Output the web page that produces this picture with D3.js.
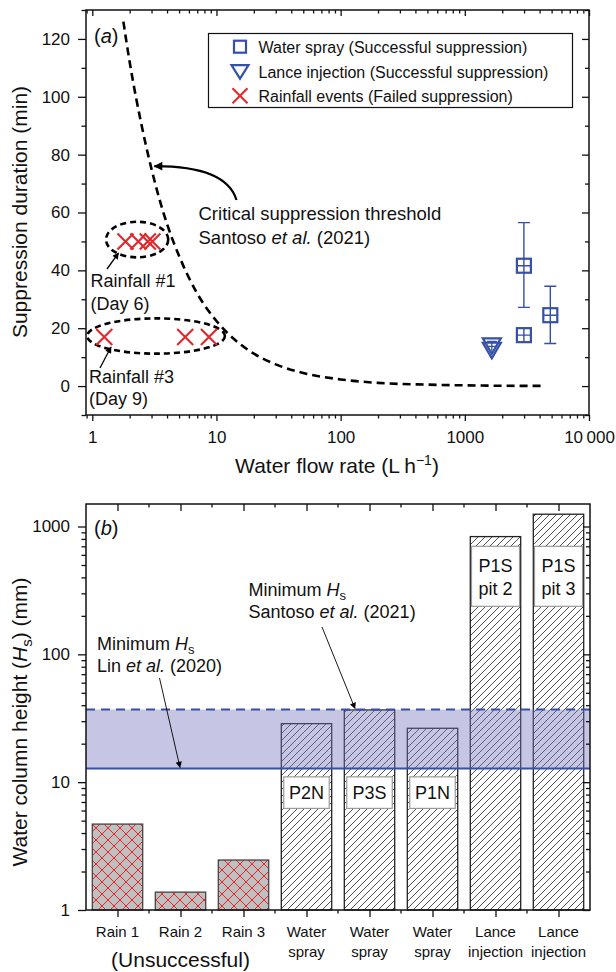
<!DOCTYPE html>
<html><head><meta charset="utf-8">
<script src="https://cdn.jsdelivr.net/npm/d3@7"></script>
<style>body{margin:0;background:#fff} svg{display:block} text{font-family:"Liberation Sans",Arial,Helvetica,sans-serif;fill:#111}</style>
</head><body><svg id="c" width="616" height="972"></svg>
<script>
// ---------- Panel (a) data ----------
const thresholdFlow = [1.78, 2, 2.5, 3, 4, 5, 7, 10, 15, 20, 30, 50, 100, 200, 500, 1000, 2000, 4200];
const thresholdDuration = [126, 112, 90, 75, 56, 45, 32, 22.5, 15, 11.2, 7.5, 4.5, 2.3, 1.1, 0.5, 0.25, 0.1, 0.05];
const rainFlow = [1.85, 2.35, 2.8, 3.05, 1.25, 5.6, 8.7];
const rainDuration = [50, 50, 50, 50, 17, 17, 17];
const sprayFlow = [2990, 2990, 4880];
const sprayDuration = [41.6, 17.6, 24.5];
const sprayErrLow = [27.2, 17.6, 14.7];
const sprayErrHigh = [56.5, 17.6, 34.5];
const lanceFlow = [1650, 1650];
const lanceDuration = [14.4, 12.9];
const lanceErrLow = [13.4, 12.1];
const lanceErrHigh = [15.4, 13.7];
const xTicksA = [1, 10, 100, 1000, 10000];
const yTicksA = [0, 20, 40, 60, 80, 100, 120];
const legendLabels = ["Water spray (Successful suppression)", "Lance injection (Successful suppression)", "Rainfall events (Failed suppression)"];

// ---------- Panel (b) data ----------
const barIds = ["r1", "r2", "r3", "w1", "w2", "w3", "l1", "l2"];
const barLabels = [["Rain 1"], ["Rain 2"], ["Rain 3"], ["Water", "spray"], ["Water", "spray"], ["Water", "spray"], ["Lance", "injection"], ["Lance", "injection"]];
const barHeights = [4.7, 1.38, 2.46, 28.7, 36.7, 26.4, 834, 1248];
const barKinds = ["rain", "rain", "rain", "hatch", "hatch", "hatch", "hatch", "hatch"];
const pitLabels = [null, null, null, ["P2N"], ["P3S"], ["P1N"], ["P1S", "pit 2"], ["P1S", "pit 3"]];
const yTicksB = [1, 10, 100, 1000];
const minHsLin = 12.8;
const minHsSantoso = 37;

const BLUE = "#3550a5", RED = "#e5262b";
const svg = d3.select("#c");
const defs = svg.append("defs");

// markers
defs.append("marker").attr("id", "ahBig").attr("viewBox", "0 0 10 10").attr("refX", 9).attr("refY", 5)
  .attr("markerWidth", 4.5).attr("markerHeight", 4).attr("orient", "auto").attr("markerUnits", "strokeWidth")
  .append("path").attr("d", "M0,0 L10,5 L0,10 z").attr("fill", "#000");
defs.append("marker").attr("id", "ahMid").attr("viewBox", "0 0 10 10").attr("refX", 9).attr("refY", 5)
  .attr("markerWidth", 6).attr("markerHeight", 5).attr("orient", "auto").attr("markerUnits", "strokeWidth")
  .append("path").attr("d", "M0,0 L10,5 L0,10 z").attr("fill", "#000");
defs.append("marker").attr("id", "ahThin").attr("viewBox", "0 0 10 10").attr("refX", 9).attr("refY", 5)
  .attr("markerWidth", 9).attr("markerHeight", 7).attr("orient", "auto").attr("markerUnits", "strokeWidth")
  .append("path").attr("d", "M0,0 L10,5 L0,10 z").attr("fill", "#000");

// patterns
const pr = defs.append("pattern").attr("id", "cross").attr("patternUnits", "userSpaceOnUse").attr("width", 12).attr("height", 12);
pr.append("rect").attr("width", 12).attr("height", 12).attr("fill", "#c0c0c0");
pr.append("path").attr("d", "M0,0 L12,12 M12,0 L0,12 M-1,11 L1,13 M11,-1 L13,1 M-1,1 L1,-1 M11,13 L13,11").attr("stroke", RED).attr("stroke-width", 1);
const ph = defs.append("pattern").attr("id", "hatch").attr("patternUnits", "userSpaceOnUse").attr("width", 7).attr("height", 7);
ph.append("rect").attr("width", 7).attr("height", 7).attr("fill", "#fff");
ph.append("path").attr("d", "M0,7 L7,0 M-1,1 L1,-1 M6,8 L8,6").attr("stroke", "#222").attr("stroke-width", 0.8);

// ================= PANEL A =================
const L = 86, R = 589, TA = 10, BA = 415;
const x = d3.scaleLog().domain([0.89, 10000]).range([L, R]);
const y = d3.scaleLinear().domain([-10, 130]).range([BA, TA]);

defs.append("clipPath").attr("id", "clipA").append("rect").attr("x", L).attr("y", TA).attr("width", R - L).attr("height", BA - TA);

const minorX = [];
for (let e = -1; e < 4; e++) for (let m = 2; m <= 9; m++) { const v = m * Math.pow(10, e); if (v >= 0.89 && v <= 10000) minorX.push(v); }
const minorYA = d3.range(-10, 131, 10).filter(v => v % 20 !== 0);

const gA = svg.append("g");
function styleAxis(g) { g.select(".domain").remove(); g.selectAll("line").attr("stroke", "#111").attr("stroke-width", 1.3); g.selectAll("text").attr("fill", "#111"); }

// bottom x axis
gA.append("g").attr("transform", `translate(0,${BA})`).call(d3.axisBottom(x).tickValues(xTicksA).tickSize(6).tickPadding(10)
  .tickFormat(d => d === 10000 ? "10\u2009000" : d)).call(styleAxis).selectAll("text").attr("font-size", 17);
gA.append("g").attr("transform", `translate(0,${BA})`).call(d3.axisBottom(x).tickValues(minorX).tickSize(3.5).tickFormat("")).call(styleAxis);
// top
gA.append("g").attr("transform", `translate(0,${TA})`).call(d3.axisTop(x).tickValues(xTicksA).tickSize(-6).tickFormat("")).call(styleAxis);
gA.append("g").attr("transform", `translate(0,${TA})`).call(d3.axisTop(x).tickValues(minorX).tickSize(-3.5).tickFormat("")).call(styleAxis);
// left
gA.append("g").attr("transform", `translate(${L},0)`).call(d3.axisLeft(y).tickValues(yTicksA).tickSize(8).tickPadding(8)).call(styleAxis).selectAll("text").attr("font-size", 17);
gA.append("g").attr("transform", `translate(${L},0)`).call(d3.axisLeft(y).tickValues(minorYA).tickSize(4.5).tickFormat("")).call(styleAxis);
// right
gA.append("g").attr("transform", `translate(${R},0)`).call(d3.axisRight(y).tickValues(yTicksA).tickSize(-7).tickFormat("")).call(styleAxis);
gA.append("g").attr("transform", `translate(${R},0)`).call(d3.axisRight(y).tickValues(minorYA).tickSize(-4).tickFormat("")).call(styleAxis);

gA.append("rect").attr("x", L).attr("y", TA).attr("width", R - L).attr("height", BA - TA).attr("fill", "none").attr("stroke", "#111").attr("stroke-width", 1.5);

// threshold curve
const plotA = gA.append("g").attr("clip-path", "url(#clipA)");
const curvePts = thresholdFlow.map((f, i) => [f, thresholdDuration[i]]);
plotA.append("path").datum(curvePts)
  .attr("d", d3.line().x(d => x(d[0])).y(d => y(d[1])).curve(d3.curveMonotoneX))
  .attr("fill", "none").attr("stroke", "#000").attr("stroke-width", 2.6).attr("stroke-dasharray", "8,5");

// ellipses (data-space extents)
const ellipses = [{x0: 1.29, x1: 4.09, y0: 44.5, y1: 56.8}, {x0: 0.91, x1: 11.7, y0: 11.2, y1: 23.4}];
plotA.selectAll("ellipse.e").data(ellipses).join("ellipse")
  .attr("cx", d => (x(d.x0) + x(d.x1)) / 2).attr("cy", d => (y(d.y0) + y(d.y1)) / 2)
  .attr("rx", d => (x(d.x1) - x(d.x0)) / 2).attr("ry", d => (y(d.y0) - y(d.y1)) / 2)
  .attr("fill", "none").attr("stroke", "#000").attr("stroke-width", 2.6).attr("stroke-dasharray", "6,4");

// rain crosses
const crossPath = s => `M${-s},${-s}L${s},${s}M${-s},${s}L${s},${-s}`;
plotA.selectAll("path.rx").data(rainFlow.map((f, i) => [f, rainDuration[i]])).join("path")
  .attr("transform", d => `translate(${x(d[0])},${y(d[1])})`).attr("d", crossPath(8))
  .attr("stroke", RED).attr("stroke-width", 2.1).attr("fill", "none");

// spray squares with error bars
const spray = sprayFlow.map((f, i) => ({f, v: sprayDuration[i], lo: sprayErrLow[i], hi: sprayErrHigh[i]}));
const sq = 7;
spray.forEach(d => {
  const cx = x(d.f), cy = y(d.v);
  if (d.hi > d.v) {
    plotA.append("path").attr("d", `M${cx},${y(d.hi)}V${cy - sq}M${cx - 6},${y(d.hi)}H${cx + 6}M${cx},${cy + sq}V${y(d.lo)}M${cx - 6},${y(d.lo)}H${cx + 6}`)
      .attr("stroke", BLUE).attr("stroke-width", 1.4).attr("fill", "none");
  }
  plotA.append("rect").attr("x", cx - sq).attr("y", cy - sq).attr("width", 2 * sq).attr("height", 2 * sq)
    .attr("fill", "#fff").attr("stroke", BLUE).attr("stroke-width", 2.2);
  plotA.append("path").attr("d", `M${cx - sq},${cy}H${cx + sq}M${cx},${cy - sq}V${cy + sq}`).attr("stroke", BLUE).attr("stroke-width", 1.4);
});
// lance triangles
const triPath = "M-9,-6L9,-6L0,9.5Z";
lanceFlow.forEach((f, i) => {
  const cx = x(f), cy = y(lanceDuration[i]);
  plotA.append("path").attr("d", `M${cx},${y(lanceErrHigh[i])}V${y(lanceErrLow[i])}M${cx - 5},${y(lanceErrHigh[i])}H${cx + 5}`)
    .attr("stroke", BLUE).attr("stroke-width", 1.3);
  plotA.append("path").attr("transform", `translate(${cx},${cy})`).attr("d", triPath)
    .attr("fill", "none").attr("stroke", BLUE).attr("stroke-width", 2.2);
});

// legend
const lg = gA.append("g");
lg.append("rect").attr("x", 208.5).attr("y", 33.5).attr("width", 364).attr("height", 74).attr("fill", "#fff").attr("stroke", "#111").attr("stroke-width", 1.2);
const legY = [46.7, 71.7, 95.7];
lg.append("rect").attr("x", 234).attr("y", legY[0] - 6).attr("width", 12).attr("height", 12).attr("fill", "none").attr("stroke", BLUE).attr("stroke-width", 2.2);
lg.append("path").attr("transform", `translate(240,${legY[1] - 0.5})`).attr("d", "M-8.5,-6L8.5,-6L0,7.5Z").attr("fill", "none").attr("stroke", BLUE).attr("stroke-width", 2.2);
lg.append("path").attr("transform", `translate(240,${legY[2]})`).attr("d", crossPath(7.5)).attr("stroke", RED).attr("stroke-width", 2.1);
lg.selectAll("text").data(legendLabels).join("text").attr("x", 258.5).attr("y", (d, i) => legY[i] + 5.8)
  .attr("font-size", 16).text(d => d);

// panel label
const ta = gA.append("text").attr("x", 94).attr("y", 43).attr("font-size", 20);
ta.append("tspan").text("("); ta.append("tspan").attr("font-style", "italic").text("a"); ta.append("tspan").text(")");

// annotations
const an1 = gA.append("text").attr("font-size", 18.5);
an1.append("tspan").attr("x", 198.5).attr("y", 220).text("Critical suppression threshold");
const an1b = an1.append("tspan").attr("x", 198.5).attr("y", 243.5);
an1b.append("tspan").text("Santoso ");
an1b.append("tspan").attr("font-style", "italic").text("et al.");
an1b.append("tspan").text(" (2021)");
gA.append("path").attr("d", `M236.5,200 Q226,166 ${x(3.05) + 2},${y(76)}`).attr("fill", "none").attr("stroke", "#000").attr("stroke-width", 2.2).attr("marker-end", "url(#ahBig)");

const an2 = gA.append("text").attr("font-size", 18);
an2.append("tspan").attr("x", 90.5).attr("y", 286.5).text("Rainfall #1");
an2.append("tspan").attr("x", 90.5).attr("y", 310).text("(Day 6)");
gA.append("path").attr("d", "M107,269 L118.5,253").attr("stroke", "#000").attr("stroke-width", 1.3).attr("marker-end", "url(#ahMid)");
const an3 = gA.append("text").attr("font-size", 18);
an3.append("tspan").attr("x", 89).attr("y", 382.5).text("Rainfall #3");
an3.append("tspan").attr("x", 89).attr("y", 405).text("(Day 9)");
gA.append("path").attr("d", "M100,368 L111,347").attr("stroke", "#000").attr("stroke-width", 1.3).attr("marker-end", "url(#ahMid)");

// axis titles
gA.append("text").attr("transform", "translate(27,212) rotate(-90)").attr("text-anchor", "middle").attr("font-size", 21).text("Suppression duration (min)");
const xt = gA.append("text").attr("x", 337).attr("y", 473).attr("text-anchor", "middle").attr("font-size", 21);
xt.append("tspan").text("Water flow rate (L\u2009h");
xt.append("tspan").attr("font-size", 14).attr("dy", -8).text("\u22121");
xt.append("tspan").attr("dy", 8).text(")");

// ================= PANEL B =================
const TB = 504, BB = 910, RB = 590;
const xb = d3.scaleBand().domain(barIds).range([L, RB]).paddingInner(0.2).paddingOuter(0.1);
const yb = d3.scaleLog().domain([1, 1500]).range([BB, TB]);
const gB = svg.append("g");

const minorYB = [];
for (let e = 0; e < 4; e++) for (let m = 2; m <= 9; m++) { const v = m * Math.pow(10, e); if (v <= 1500) minorYB.push(v); }

// bars
gB.selectAll("rect.bar").data(barIds).join("rect")
  .attr("x", d => xb(d)).attr("width", xb.bandwidth())
  .attr("y", (d, i) => yb(barHeights[i])).attr("height", (d, i) => BB - yb(barHeights[i]))
  .attr("fill", (d, i) => barKinds[i] === "rain" ? "url(#cross)" : "url(#hatch)")
  .attr("stroke", (d, i) => barKinds[i] === "rain" ? "#444" : "#222").attr("stroke-width", 1.3);

// band
gB.append("rect").attr("x", L).attr("width", RB - L).attr("y", yb(minHsSantoso)).attr("height", yb(minHsLin) - yb(minHsSantoso))
  .attr("fill", "rgb(118,118,190)").attr("fill-opacity", 0.42);
gB.append("line").attr("x1", L).attr("x2", RB).attr("y1", yb(minHsSantoso)).attr("y2", yb(minHsSantoso))
  .attr("stroke", BLUE).attr("stroke-width", 2).attr("stroke-dasharray", "9,6");
gB.append("line").attr("x1", L).attr("x2", RB).attr("y1", yb(minHsLin)).attr("y2", yb(minHsLin))
  .attr("stroke", BLUE).attr("stroke-width", 2);

// pit label boxes
barIds.forEach((id, i) => {
  const lab = pitLabels[i];
  if (!lab) return;
  const cx = xb(id) + xb.bandwidth() / 2;
  const two = lab.length === 2;
  const top = two ? yb(700) : yb(11);
  const h = two ? 60 : 31.5;
  const w = two ? 48 : 45.5;
  gB.append("rect").attr("x", cx - w / 2).attr("y", top).attr("width", w).attr("height", h)
    .attr("fill", "#fff").attr("stroke", "#9a9a9a").attr("stroke-width", 1.2);
  const t = gB.append("text").attr("text-anchor", "middle").attr("font-size", 18);
  lab.forEach((s, k) => t.append("tspan").attr("x", cx).attr("y", two ? top + 26 + k * 22.5 : top + 22.5).text(s));
});

// axes
gB.append("g").attr("transform", `translate(${L},0)`).call(d3.axisLeft(yb).tickValues(yTicksB).tickSize(8).tickPadding(8).tickFormat(d3.format("d"))).call(styleAxis).selectAll("text").attr("font-size", 17);
gB.append("g").attr("transform", `translate(${L},0)`).call(d3.axisLeft(yb).tickValues(minorYB).tickSize(4.5).tickFormat("")).call(styleAxis);
gB.append("g").attr("transform", `translate(${RB},0)`).call(d3.axisRight(yb).tickValues(yTicksB).tickSize(-7).tickFormat("")).call(styleAxis);
gB.append("g").attr("transform", `translate(${RB},0)`).call(d3.axisRight(yb).tickValues(minorYB).tickSize(-4).tickFormat("")).call(styleAxis);

const xc = d3.scalePoint().domain(barIds).range([L + xb.step() / 2, RB - xb.step() / 2]);
const bounds = barIds.slice(1).map(id => xb(id) - xb.step() * 0.1);
gB.append("g").attr("transform", `translate(0,${BB})`).call(d3.axisBottom(xc).tickSize(7).tickFormat("")).call(styleAxis);
gB.selectAll("line.bmin").data(bounds).join("line").attr("class", "bmin").attr("x1", d => d).attr("x2", d => d).attr("y1", BB).attr("y2", BB + 3.5).attr("stroke", "#111").attr("stroke-width", 1.3);
gB.append("g").attr("transform", `translate(0,${TB})`).call(d3.axisTop(xc).tickSize(-7).tickFormat("")).call(styleAxis);
gB.selectAll("line.tmin").data(bounds).join("line").attr("class", "tmin").attr("x1", d => d).attr("x2", d => d).attr("y1", TB).attr("y2", TB + 3.5).attr("stroke", "#111").attr("stroke-width", 1.3);

gB.append("rect").attr("x", L).attr("y", TB).attr("width", RB - L).attr("height", BB - TB).attr("fill", "none").attr("stroke", "#111").attr("stroke-width", 1.5);

// category labels
barIds.forEach((id, i) => {
  const t = gB.append("text").attr("text-anchor", "middle").attr("font-size", 15);
  barLabels[i].forEach((s, k) => t.append("tspan").attr("x", xc(id)).attr("y", BB + 27 + k * 20).text(s));
});
gB.append("text").attr("x", xc("r2")).attr("y", 967).attr("text-anchor", "middle").attr("font-size", 21).text("(Unsuccessful)");

// panel label
const tb = gB.append("text").attr("x", 94).attr("y", 535).attr("font-size", 20);
tb.append("tspan").text("("); tb.append("tspan").attr("font-style", "italic").text("b"); tb.append("tspan").text(")");

// annotations
function hsLabel(x0, y0, ref, yr) {
  const t = gB.append("text").attr("font-size", 18);
  const l1 = t.append("tspan").attr("x", x0).attr("y", y0);
  l1.append("tspan").text("Minimum ");
  l1.append("tspan").attr("font-style", "italic").text("H");
  l1.append("tspan").attr("font-size", 13).attr("dy", 4).text("s");
  const l2 = t.append("tspan").attr("x", x0).attr("y", y0 + 22);
  l2.append("tspan").text(ref + " ");
  l2.append("tspan").attr("font-style", "italic").text("et al.");
  l2.append("tspan").text(" (" + yr + ")");
}
hsLabel(97, 650, "Lin", "2020");
hsLabel(248.5, 595.5, "Santoso", "2021");
gB.append("path").attr("d", `M159.5,678 L180,${yb(minHsLin) - 1}`).attr("stroke", "#000").attr("stroke-width", 0.9).attr("marker-end", "url(#ahThin)");
gB.append("path").attr("d", `M322,627 L355,${yb(minHsSantoso) - 1}`).attr("stroke", "#000").attr("stroke-width", 0.9).attr("marker-end", "url(#ahThin)");

// y title
const yt = gB.append("text").attr("transform", "translate(27,722) rotate(-90)").attr("text-anchor", "middle").attr("font-size", 21);
yt.append("tspan").text("Water column height (");
yt.append("tspan").attr("font-style", "italic").text("H");
yt.append("tspan").attr("font-size", 15).attr("dy", 5).text("s");
yt.append("tspan").attr("dy", -5).text(") (mm)");
</script></body></html>
